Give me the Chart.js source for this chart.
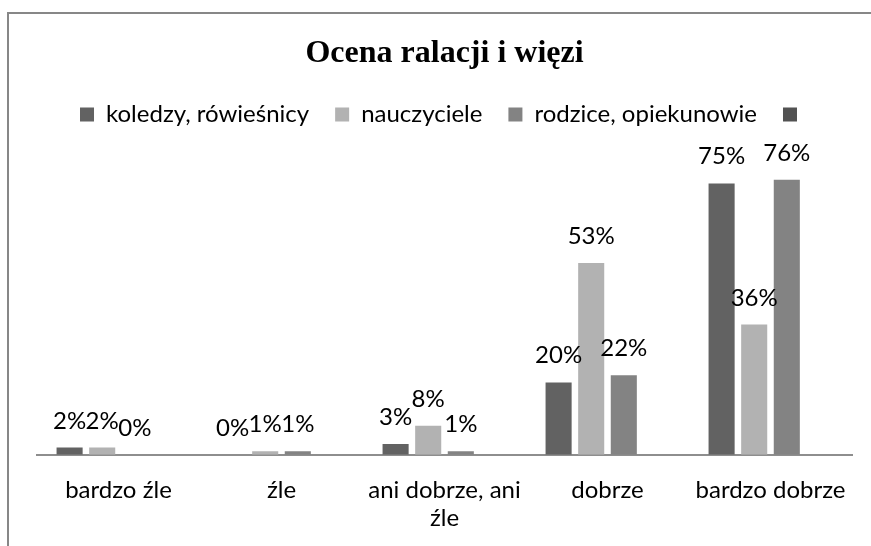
<!DOCTYPE html>
<html>
<head>
<meta charset="utf-8">
<script src="https://cdn.jsdelivr.net/npm/chart.js@4.4.1/dist/chart.umd.min.js"></script>
<style>
  html, body { margin: 0; padding: 0; background: #fff; overflow: hidden; }
  #frame {
    position: absolute; left: 7px; top: 12px;
    width: 900px; height: 600px;
    border: 2px solid #878787;
  }
  #wrap { position: absolute; left: 0; top: 0; width: 871px; height: 560px; }
</style>
</head>
<body>
<div id="frame"></div>
<div id="wrap"><canvas id="chart" width="871" height="560"></canvas></div>
<script>
// categories and series (fractions, shown as %)
const categories = ["bardzo źle", "źle", ["ani dobrze, ani", "źle"], "dobrze", "bardzo dobrze"];
const koledzy = [0.02, 0.00, 0.03, 0.20, 0.75];
const nauczyciele = [0.02, 0.01, 0.08, 0.53, 0.36];
const rodzice = [0.00, 0.01, 0.01, 0.22, 0.76];
const puste = [null, null, null, null, null];

const FONT = "Lato";

// draw percentage labels above every bar
const barLabels = {
  id: "barLabels",
  afterDatasetsDraw(chart) {
    const ctx = chart.ctx;
    ctx.save();
    ctx.font = "24px " + FONT;
    ctx.fillStyle = "#000";
    ctx.textAlign = "center";
    ctx.textBaseline = "alphabetic";
    chart.data.datasets.forEach((ds, i) => {
      const meta = chart.getDatasetMeta(i);
      meta.data.forEach((bar, j) => {
        const v = ds.data[j];
        if (v === null || v === undefined) return;
        ctx.fillText(Math.round(v * 100) + "%", bar.x, bar.y - 19);
      });
    });
    ctx.restore();
  }
};

new Chart(document.getElementById("chart"), {
  type: "bar",
  data: {
    labels: categories,
    datasets: [
      { label: "koledzy, rówieśnicy", data: koledzy, backgroundColor: "#626262" },
      { label: "nauczyciele", data: nauczyciele, backgroundColor: "#b2b2b2" },
      { label: "rodzice, opiekunowie", data: rodzice, backgroundColor: "#838383" },
      { label: "", data: puste, backgroundColor: "#525252" }
    ]
  },
  options: {
    responsive: false,
    animation: false,
    categoryPercentage: 0.8,
    barPercentage: 0.8,
    layout: { padding: { left: 37, right: 19, top: 20, bottom: 6 } },
    scales: {
      x: {
        grid: { display: false, drawTicks: false },
        border: { display: true, color: "#8e8e8e", width: 2 },
        ticks: {
          color: "#000",
          padding: 22,
          maxRotation: 0,
          autoSkip: false,
          font: { family: FONT, size: 24, lineHeight: 1.15 }
        }
      },
      y: {
        display: false,
        min: 0,
        max: 0.88
      }
    },
    plugins: {
      title: {
        display: true,
        text: "Ocena ralacji i więzi",
        color: "#000",
        font: { family: "Liberation Serif", size: 32, weight: "bold" },
        padding: { top: 15, bottom: 3 }
      },
      legend: {
        display: true,
        position: "top",
        labels: {
          color: "#000",
          boxWidth: 14,
          boxHeight: 14,
          padding: 26,
          font: { family: FONT, size: 24 }
        }
      },
      tooltip: { enabled: false }
    }
  },
  plugins: [barLabels]
});
</script>
</body>
</html>
